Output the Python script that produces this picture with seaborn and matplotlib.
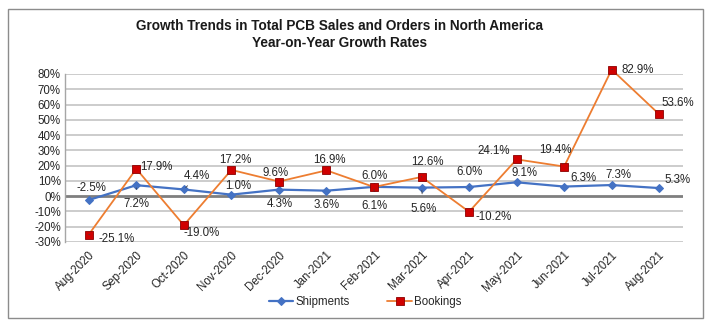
import matplotlib
matplotlib.use("Agg")
import matplotlib.pyplot as plt
from matplotlib.patches import Rectangle
import pandas as pd
import seaborn as sns

months = ["Aug-2020", "Sep-2020", "Oct-2020", "Nov-2020", "Dec-2020", "Jan-2021",
          "Feb-2021", "Mar-2021", "Apr-2021", "May-2021", "Jun-2021", "Jul-2021", "Aug-2021"]
shipments = [-2.5, 7.2, 4.4, 1.0, 4.3, 3.6, 6.1, 5.6, 6.0, 9.1, 6.3, 7.3, 5.3]
bookings = [-25.1, 17.9, -19.0, 17.2, 9.6, 16.9, 6.0, 12.6, -10.2, 24.1, 19.4, 82.9, 53.6]
y_ticks = [-30, -20, -10, 0, 10, 20, 30, 40, 50, 60, 70, 80]

# label offsets (pixels, relative to each marker)
ship_off = [(3, 12), (0, -19), (13, 13), (7, 9), (1, -14), (0, -14), (0, -19),
            (2, -21), (0, 15), (8, 9), (19, 9), (7, 10), (18, 8)]
book_off = [(28, -4), (20, 2), (18, -8), (4, 10), (-3, 9), (3, 10), (0, 11),
            (6, 15), (25, -5), (-23, 8), (-9, 17), (26, 0), (19, 11)]
ship_leader = [False, True, True, False, False, False, True, True, True, False, False, False, False]
book_leader = [True, False, False, False, False, False, False, True, False, False, True, True, False]

sns.set_theme(style="white")
plt.rcParams["font.family"] = ["Liberation Sans", "DejaVu Sans"]

df = pd.DataFrame({"month": months, "Shipments": shipments, "Bookings": bookings})

fig = plt.figure(figsize=(7.10, 3.26), dpi=100)
ax = fig.add_axes([65 / 710, 1 - 242 / 326, (683 - 65) / 710, (242 - 74) / 326])

text_col = "#262626"
blue = "#4472C4"
orange = "#ED7D31"

sns.lineplot(data=df, x="month", y="Shipments", ax=ax, color=blue, lw=1.6,
             marker="D", markersize=4.5, markeredgecolor=blue, markerfacecolor=blue,
             sort=False, label="Shipments", clip_on=False)
sns.lineplot(data=df, x="month", y="Bookings", ax=ax, color=orange, lw=1.3,
             marker="s", markersize=5.5, markeredgecolor="#8B0000", markeredgewidth=0.6,
             markerfacecolor="#D00000", sort=False, label="Bookings", clip_on=False)

ax.set_xlim(-0.5, len(months) - 0.5)
ax.set_ylim(-30, 80)
ax.set_yticks(y_ticks)
ax.set_yticklabels([f"{v}%" for v in y_ticks], fontsize=8.3, color=text_col)
ax.set_xticks(range(len(months)))
ax.set_xticklabels(months, rotation=45, ha="right", rotation_mode="anchor",
                   fontsize=8.3, color=text_col)
ax.tick_params(axis="both", length=0, pad=3)
ax.tick_params(axis="x", pad=5)
ax.set_xlabel("")
ax.set_ylabel("")

for v in y_ticks:
    if v != 0:
        ax.axhline(v, color="#BFBFBF", lw=1.1, zorder=0)
ax.axhline(0, color="#7F7F7F", lw=2.0, zorder=1)
for s in ["top", "right", "bottom"]:
    ax.spines[s].set_visible(False)
ax.spines["left"].set_color("#A6A6A6")
ax.spines["left"].set_linewidth(1.0)

def put_labels(vals, offs, leaders):
    for i, (v, (dx, dy), ld) in enumerate(zip(vals, offs, leaders)):
        props = dict(arrowstyle="-", color="#404040", lw=0.6, shrinkA=4, shrinkB=2) if ld else None
        ax.annotate(f"{v:.1f}%", xy=(i, v), xytext=(dx, dy), textcoords="offset pixels",
                    ha="center", va="center", fontsize=8.3, color=text_col,
                    arrowprops=props, zorder=5, annotation_clip=False)

put_labels(shipments, ship_off, ship_leader)
put_labels(bookings, book_off, book_leader)

ax.get_legend().remove()
handles, labels = ax.get_legend_handles_labels()
fig.legend(handles, labels, loc="center", bbox_to_anchor=(365 / 710, 1 - 302 / 326),
           ncol=2, frameon=False, fontsize=8.3, handlelength=2.1, handletextpad=0.2,
           columnspacing=3.3, labelcolor=text_col)

fig.text(340 / 710, 1 - 26 / 326, "Growth Trends in Total PCB Sales and Orders in North America",
         ha="center", va="center", fontsize=9.8, fontweight="bold", color="#1a1a1a")
fig.text(340 / 710, 1 - 43 / 326, "Year-on-Year Growth Rates",
         ha="center", va="center", fontsize=9.8, fontweight="bold", color="#1a1a1a")

fig.patches.append(Rectangle((8 / 710, 1 - 318 / 326), (703 - 8) / 710, (318 - 9) / 326,
                             transform=fig.transFigure, fill=False, edgecolor="#8C8C8C", lw=1.0))

fig.savefig("out.png", dpi=100, facecolor="white")
